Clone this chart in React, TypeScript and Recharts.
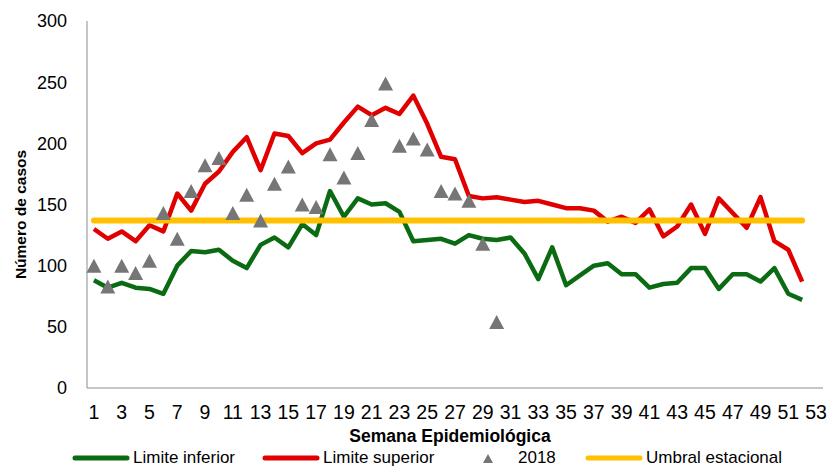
import React from 'react';
import {
  ComposedChart,
  Line,
  Scatter,
  XAxis,
  YAxis,
  ReferenceLine,
  Legend,
  Label,
} from 'recharts';

// Semanas epidemiológicas 1..52
const limiteInferior = [
  88, 82, 86, 82, 81, 77, 100, 112, 111, 113, 104, 98, 117, 123, 115, 134, 125, 161, 140, 155,
  150, 151, 144, 120, 121, 122, 118, 125, 122, 121, 123, 110, 89, 115, 84, 92, 100, 102, 93, 93,
  82, 85, 86, 98, 98, 81, 93, 93, 87, 98, 77, 72,
];

const limiteSuperior = [
  130, 122, 128, 120, 133, 128, 159, 145, 167, 177, 193, 205, 178, 208, 206, 192, 200, 203, 217, 230,
  223, 229, 224, 239, 216, 189, 187, 157, 155, 156, 154, 152, 153, 150, 147, 147, 145, 136, 140, 135,
  146, 124, 132, 150, 126, 155, 143, 131, 156, 120, 113, 87,
];

// casos 2018 (semanas 1..30)
const casos2018 = [
  100, 83, 100, 94, 104, 143, 122, 161, 182, 188, 143, 158, 137, 167, 181, 150, 148, 191, 172, 192,
  219, 249, 198, 204, 195, 161, 159, 153, 118, 54,
];

const umbralEstacional = 137;
const primeraSemana = 1;
const ultimaSemana = 52;

const xTicks = [1, 3, 5, 7, 9, 11, 13, 15, 17, 19, 21, 23, 25, 27, 29, 31, 33, 35, 37, 39, 41, 43, 45, 47, 49, 51, 53];
const yTicks = [0, 50, 100, 150, 200, 250, 300];

const data = limiteInferior.map((v, i) => ({
  semana: i + 1,
  inferior: v,
  superior: limiteSuperior[i],
  casos: i < casos2018.length ? casos2018[i] : null,
}));

const FONT = '"Liberation Sans", Arial, sans-serif';

const GREEN = '#0a6b12';
const RED = '#e10000';
const YELLOW = '#ffc000';
const GRAY = '#767676';
const AXIS = '#8c8c8c';

const Triangle = (props: any) => {
  const { cx, cy } = props;
  if (cx == null || cy == null) return null;
  return <path d={`M${cx},${cy - 7} L${cx + 7.5},${cy + 7} L${cx - 7.5},${cy + 7} Z`} fill={GRAY} />;
};

const legendItems = [
  { label: 'Limite inferior', color: GREEN, type: 'line', left: 72 },
  { label: 'Limite superior', color: RED, type: 'line', left: 262 },
  { label: '2018', color: GRAY, type: 'triangle', left: 480 },
  { label: 'Umbral estacional', color: YELLOW, type: 'line', left: 585 },
];

const CustomLegend = () => (
  <div style={{ position: 'relative', width: 829, height: 22, fontFamily: FONT, fontSize: 17, color: '#000' }}>
    {legendItems.map((it) => (
      <div
        key={it.label}
        style={{ position: 'absolute', left: it.left, top: 2, height: 20, display: 'flex', alignItems: 'center', whiteSpace: 'nowrap' }}
      >
        {it.type === 'line' ? (
          <svg width={59} height={8} style={{ marginRight: 2 }}>
            <line x1={3} y1={4} x2={55} y2={4} stroke={it.color} strokeWidth={5} strokeLinecap="round" />
          </svg>
        ) : (
          <svg width={38} height={12}>
            <path d="M8,2 L13,11 L3,11 Z" fill={it.color} />
          </svg>
        )}
        <span style={{ lineHeight: '20px' }}>{it.label}</span>
      </div>
    ))}
  </div>
);

export default function App() {
  return (
    <div style={{ position: 'absolute', left: 0, top: 0, width: 829, height: 468, background: '#fff', overflow: 'hidden' }}>
      <ComposedChart width={829} height={468} data={data} margin={{ top: 21, right: 6, bottom: 0, left: 0 }}>
        <XAxis
          dataKey="semana"
          type="number"
          domain={[0.5, 53.5]}
          ticks={xTicks}
          interval={0}
          height={58}
          axisLine={{ stroke: AXIS }}
          tickLine={false}
          tickSize={0}
          tickMargin={17}
          tick={{ fill: '#000', fontSize: 19.5, fontFamily: FONT }}
        >
          <Label
            value="Semana Epidemiológica"
            position="insideBottom"
            offset={4}
            dx={-5}
            style={{ fontFamily: FONT, fontSize: 17.5, fontWeight: 'bold', fill: '#000' }}
          />
        </XAxis>
        <YAxis
          type="number"
          domain={[0, 300]}
          ticks={yTicks}
          width={87}
          axisLine={{ stroke: AXIS }}
          tickLine={false}
          tickSize={0}
          tickMargin={20}
          tick={{ fill: '#000', fontSize: 18, fontFamily: FONT }}
        >
          <Label
            value="Número de casos"
            angle={-90}
            position="center"
            dx={-23}
            dy={10}
            style={{ fontFamily: FONT, fontSize: 15.5, fontWeight: 'bold', fill: '#000', textAnchor: 'middle' }}
          />
        </YAxis>
        <Legend verticalAlign="bottom" wrapperStyle={{ left: 0, width: 829 }} content={<CustomLegend />} />
        <Line
          dataKey="inferior"
          stroke={GREEN}
          strokeWidth={4.5}
          dot={false}
          isAnimationActive={false}
          strokeLinejoin="round"
        />
        <Line
          dataKey="superior"
          stroke={RED}
          strokeWidth={4.5}
          dot={false}
          isAnimationActive={false}
          strokeLinejoin="round"
        />
        <ReferenceLine
          segment={[
            { x: primeraSemana, y: umbralEstacional },
            { x: ultimaSemana, y: umbralEstacional },
          ]}
          stroke={YELLOW}
          strokeWidth={6}
          strokeLinecap="round"
        />
        <Scatter dataKey="casos" shape={<Triangle />} isAnimationActive={false} />
      </ComposedChart>
    </div>
  );
}
